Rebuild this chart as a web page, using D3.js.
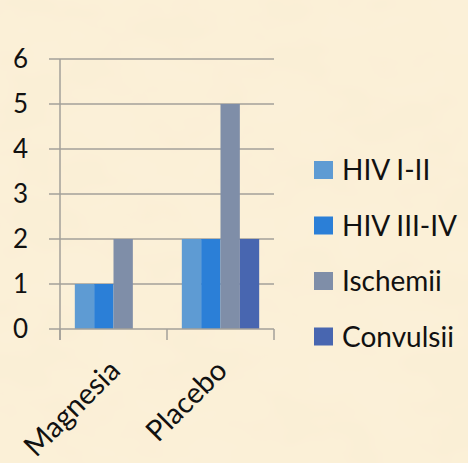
<!DOCTYPE html>
<html>
<head>
<meta charset="utf-8">
<script src="https://cdn.jsdelivr.net/npm/d3@7"></script>
<style>
  html, body { margin: 0; padding: 0; background: #faefd7; }
  svg { display: block; }
</style>
</head>
<body>
<svg id="chart" width="468" height="463"></svg>
<script>
// Chart data
const categories = ["Magnesia", "Placebo"];
const seriesNames = ["HIV I-II", "HIV III-IV", "Ischemii", "Convulsii"];
const hivI_II   = [1, 2];
const hivIII_IV = [1, 2];
const ischemii  = [2, 5];
const convulsii = [0, 2];
const yTicks = [0, 1, 2, 3, 4, 5, 6];
const seriesColors = ["#5e9bd3", "#2b7fd7", "#7f8ea8", "#4866b0"];

const seriesValues = [hivI_II, hivIII_IV, ischemii, convulsii];

const svg = d3.select("#chart");
const W = 468, H = 463;
const FONT = "Lato, 'Open Sans', sans-serif";

// Parchment background with soft mottling
const defs = svg.append("defs");
const filt = defs.append("filter").attr("id", "parch")
  .attr("x", 0).attr("y", 0).attr("width", "100%").attr("height", "100%");
filt.append("feTurbulence").attr("type", "fractalNoise")
  .attr("baseFrequency", "0.012 0.02").attr("numOctaves", 3).attr("seed", 7).attr("result", "n");
filt.append("feColorMatrix").attr("in", "n").attr("type", "matrix")
  .attr("values", "0 0 0 0 0.93  0 0 0 0 0.85  0 0 0 0 0.62  0.55 0 0 0 -0.18")
  .attr("result", "tint");
filt.append("feComposite").attr("in", "tint").attr("in2", "SourceGraphic").attr("operator", "over");

svg.append("rect").attr("width", W).attr("height", H).attr("fill", "#fbf0d8");
svg.append("rect").attr("width", W).attr("height", H).attr("fill", "#fbf0d8")
  .attr("filter", "url(#parch)").attr("opacity", 0.6);

// Plot area
const plotLeft = 60, plotRight = 274, plotTop = 59, plotBottom = 329;

const x0 = d3.scaleBand().domain(categories).range([plotLeft, plotRight]).paddingInner(0.277).paddingOuter(0.1385);
const x1 = d3.scaleBand().domain(seriesNames).range([0, x0.bandwidth()]).padding(0);
const y = d3.scaleLinear().domain([0, 6]).range([plotBottom, plotTop]);

const gridColor = "#a3a09a";

// Horizontal gridlines (with short outer ticks to the left)
svg.append("g").selectAll("line").data(yTicks.filter(t => t > 0)).join("line")
  .attr("x1", 49).attr("x2", plotRight)
  .attr("y1", d => y(d)).attr("y2", d => y(d))
  .attr("stroke", gridColor).attr("stroke-width", 1.5);

// Vertical axis line
svg.append("line")
  .attr("x1", plotLeft).attr("x2", plotLeft)
  .attr("y1", plotTop).attr("y2", 340)
  .attr("stroke", gridColor).attr("stroke-width", 1.5);

// Bars
const groups = svg.append("g").selectAll("g").data(categories).join("g")
  .attr("transform", d => `translate(${x0(d)},0)`);
groups.selectAll("rect")
  .data((c, ci) => seriesNames.map((s, si) => ({ s, si, v: seriesValues[si][ci] })))
  .join("rect")
  .attr("x", d => x1(d.s))
  .attr("y", d => y(d.v))
  .attr("width", x1.bandwidth())
  .attr("height", d => y(0) - y(d.v))
  .attr("fill", d => seriesColors[d.si]);

// Baseline and category boundary ticks
svg.append("line")
  .attr("x1", 49).attr("x2", plotRight)
  .attr("y1", plotBottom).attr("y2", plotBottom)
  .attr("stroke", gridColor).attr("stroke-width", 1.5);
const step = (plotRight - plotLeft) / categories.length;
svg.append("g").selectAll("line").data(d3.range(categories.length + 1)).join("line")
  .attr("x1", i => plotLeft + i * step).attr("x2", i => plotLeft + i * step)
  .attr("y1", plotBottom).attr("y2", 340)
  .attr("stroke", gridColor).attr("stroke-width", 1.5);

// Y tick labels
svg.append("g").selectAll("text").data(yTicks).join("text")
  .attr("x", 28).attr("y", d => y(d))
  .attr("dy", "0.36em")
  .attr("text-anchor", "end")
  .attr("font-family", FONT).attr("font-size", 26)
  .attr("fill", "#111")
  .text(d => d);

// Category labels, rotated
svg.append("g").selectAll("text").data(categories).join("text")
  .attr("transform", d => `translate(${x0(d) + x0.bandwidth() / 2 - 6},${plotBottom + 29}) rotate(-45)`)
  .attr("text-anchor", "end")
  .attr("dy", "0.7em")
  .attr("font-family", FONT).attr("font-size", 29)
  .attr("fill", "#111")
  .text(d => d);

// Legend
const legend = svg.append("g").selectAll("g").data(seriesNames).join("g")
  .attr("transform", (d, i) => `translate(314,${170 + i * 55.5})`);
legend.append("rect")
  .attr("x", 0).attr("y", -9).attr("width", 19).attr("height", 18)
  .attr("fill", (d, i) => seriesColors[i]);
legend.append("text")
  .attr("x", 28).attr("y", 0).attr("dy", "0.36em")
  .attr("font-family", FONT).attr("font-size", 28)
  .attr("fill", "#111")
  .text(d => d);
</script>
</body>
</html>
